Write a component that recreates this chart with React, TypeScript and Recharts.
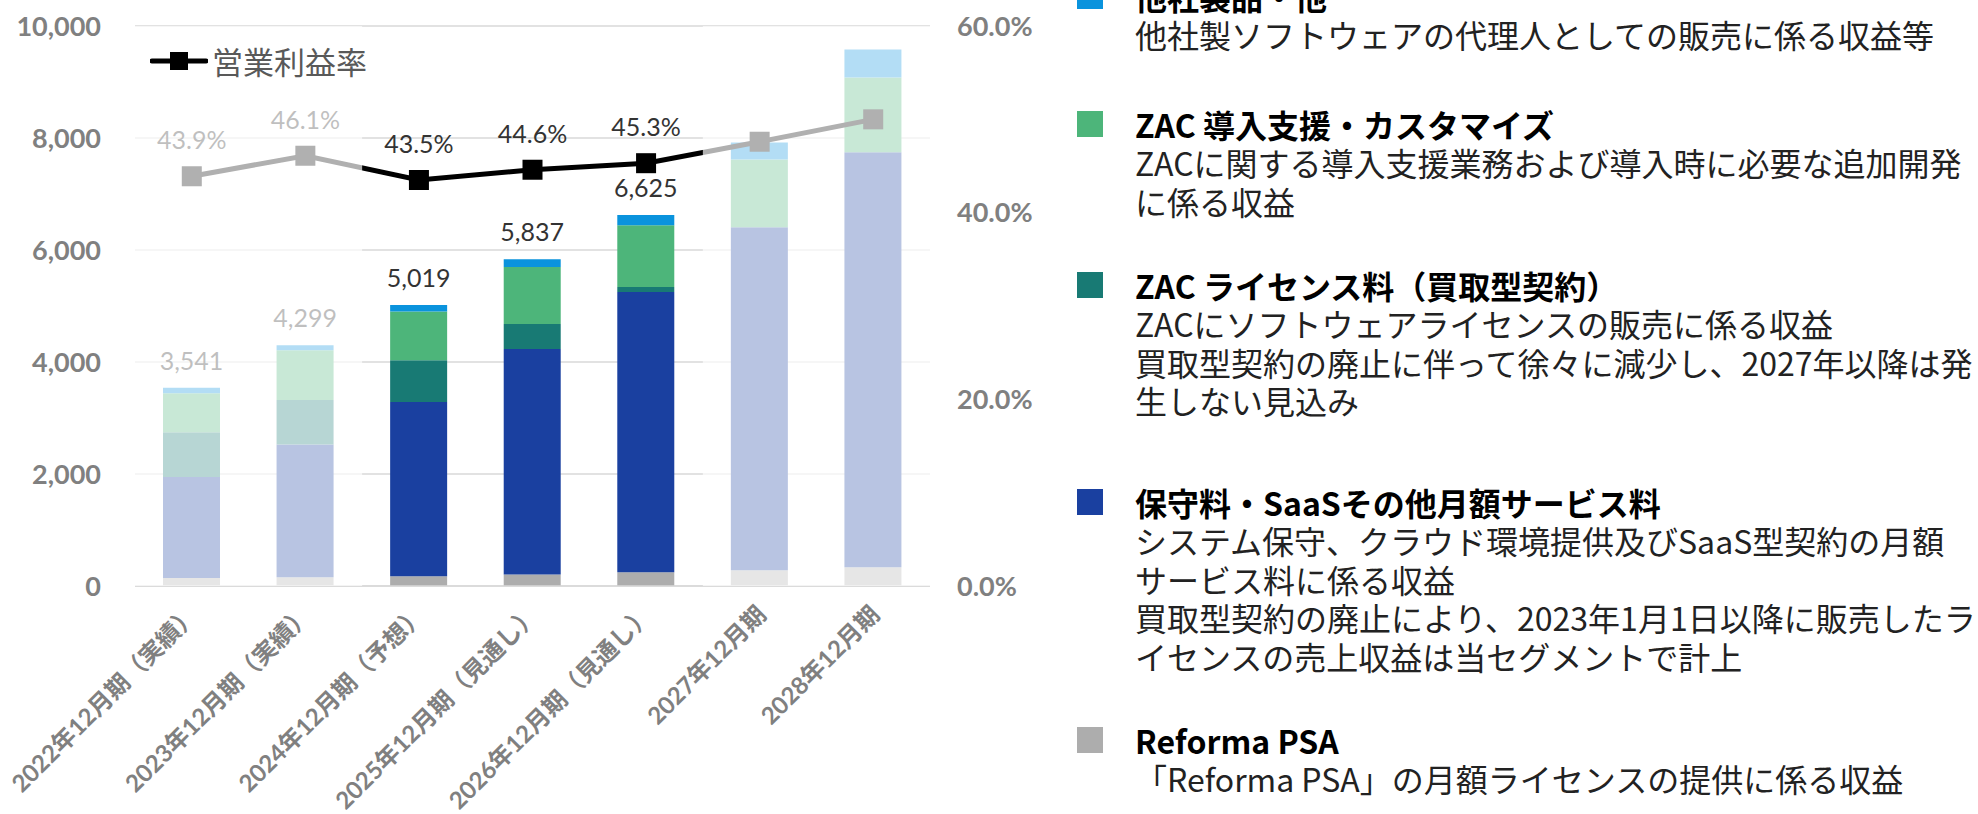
import {
  Bar,
  CartesianGrid,
  ComposedChart,
  LabelList,
  Legend,
  Line,
  ReferenceArea,
  XAxis,
  YAxis,
} from 'recharts'

const categories = [
  '2022年12月期（実績）',
  '2023年12月期（実績）',
  '2024年12月期（予想）',
  '2025年12月期（見通し）',
  '2026年12月期（見通し）',
  '2027年12月期',
  '2028年12月期',
]
const reformaPsa = [143, 155, 173, 204, 245, 280, 334]
const saasMonthly = [1803, 2370, 3113, 4028, 5005, 6125, 7411]
const zacLicense = [799, 796, 744, 447, 89, 0, 0]
const zacIntro = [696, 888, 870, 1017, 1102, 1209, 1334]
const otherProducts = [100, 90, 119, 141, 184, 304, 500]
const totalLabels = [3541, 4299, 5019, 5837, 6625, null, null]
const opMargin = [43.9, 46.1, 43.5, 44.6, 45.3, 47.6, 50.0]
const marginLabels = [43.9, 46.1, 43.5, 44.6, 45.3, null, null]
const leftTicks = [0, 2000, 4000, 6000, 8000, 10000]
const rightTicks = [0, 20, 40, 60]

const legendItems = [
  { color: '#0A93DD', title: '他社製品・他', lines: ['他社製ソフトウェアの代理人としての販売に係る収益等'] },
  {
    color: '#4DB57A',
    title: 'ZAC 導入支援・カスタマイズ',
    lines: ['ZACに関する導入支援業務および導入時に必要な追加開発', 'に係る収益'],
  },
  {
    color: '#187A74',
    title: 'ZAC ライセンス料（買取型契約）',
    lines: [
      'ZACにソフトウェアライセンスの販売に係る収益',
      '買取型契約の廃止に伴って徐々に減少し、2027年以降は発',
      '生しない見込み',
    ],
  },
  {
    color: '#1A40A0',
    title: '保守料・SaaSその他月額サービス料',
    lines: [
      'システム保守、クラウド環境提供及びSaaS型契約の月額',
      'サービス料に係る収益',
      '買取型契約の廃止により、2023年1月1日以降に販売したラ',
      'イセンスの売上収益は当セグメントで計上',
    ],
  },
  { color: '#ADADAD', title: 'Reforma PSA', lines: ['「Reforma PSA」の月額ライセンスの提供に係る収益'] },
]
// vertical centre of each legend title row
const legendTitleY = [-4, 124, 285, 502, 740]

const NUM_FONT = "Lato, 'Noto Sans CJK JP', sans-serif"
const JP_FONT = "'Noto Sans CJK JP', sans-serif"
const LINE_H = 38.5

const data = categories.map((name, i) => ({
  name,
  reforma: reformaPsa[i],
  saas: saasMonthly[i],
  license: zacLicense[i],
  intro: zacIntro[i],
  other: otherProducts[i],
  margin: opMargin[i],
}))

function XTick({ x, y, payload }: any) {
  const tx = x + 8
  const ty = y + 22
  return (
    <text
      x={tx}
      y={ty}
      transform={`rotate(-45, ${tx}, ${ty})`}
      textAnchor="end"
      fill="#808080"
      fontSize={24}
      fontWeight={700}
      fontFamily={NUM_FONT}
    >
      {payload.value}
    </text>
  )
}

function SquareDot({ cx, cy, index }: any) {
  if (cx == null || cy == null) return null
  return <rect key={`dot-${index}`} x={cx - 10} y={cy - 10} width={20} height={20} fill="#000" />
}

function TotalLabel(props: any) {
  const v = totalLabels[props.index]
  if (v == null) return null
  const x = props.x ?? props.viewBox?.x
  const y = props.y ?? props.viewBox?.y
  const w = props.width ?? props.viewBox?.width ?? 0
  return (
    <text x={x + w / 2} y={y - 18} textAnchor="middle" fill="#333" fontSize={25} fontFamily={NUM_FONT}>
      {v.toLocaleString('en-US')}
    </text>
  )
}

function MarginLabel(props: any) {
  const v = marginLabels[props.index]
  if (v == null) return null
  const x = props.x ?? props.viewBox?.x
  const y = props.y ?? props.viewBox?.y
  return (
    <text x={x} y={y - 27} textAnchor="middle" fill="#333" fontSize={25} fontFamily={NUM_FONT}>
      {v.toFixed(1)}%
    </text>
  )
}

function MarginLegend() {
  return (
    <div style={{ display: 'flex', alignItems: 'center', fontFamily: JP_FONT }}>
      <svg width={58} height={20}>
        <line x1={2} y1={10} x2={56} y2={10} stroke="#000" strokeWidth={5} strokeLinecap="round" />
        <rect x={20} y={1} width={18} height={18} fill="#000" />
      </svg>
      <span style={{ fontSize: 31, color: '#595959', marginLeft: 4, lineHeight: 1 }}>営業利益率</span>
    </div>
  )
}

export default function App() {
  return (
    <div
      style={{
        position: 'absolute',
        left: 0,
        top: 0,
        width: 1978,
        height: 814,
        overflow: 'hidden',
        background: '#fff',
      }}
    >
      <ComposedChart width={1040} height={814} data={data} margin={{ top: 26, right: 0, bottom: 0, left: 0 }}>
        <CartesianGrid vertical={false} stroke="#D9D9D9" strokeWidth={1.3} yAxisId="left" />
        <XAxis
          dataKey="name"
          interval={0}
          height={228}
          tickLine={false}
          axisLine={{ stroke: '#D9D9D9', strokeWidth: 1.5 }}
          tick={<XTick />}
        />
        <YAxis
          yAxisId="left"
          width={135}
          domain={[0, 10000]}
          ticks={leftTicks}
          axisLine={false}
          tickLine={false}
          tickSize={6}
          tickMargin={28}
          tickFormatter={(v: number) => v.toLocaleString('en-US')}
          tick={{ fill: '#808080', fontSize: 27, fontWeight: 700, fontFamily: NUM_FONT }}
        />
        <YAxis
          yAxisId="right"
          orientation="right"
          width={110}
          domain={[0, 60]}
          ticks={rightTicks}
          axisLine={false}
          tickLine={false}
          tickSize={6}
          tickMargin={21}
          tickFormatter={(v: number) => `${v.toFixed(1)}%`}
          tick={{ fill: '#808080', fontSize: 27, fontWeight: 700, fontFamily: NUM_FONT, textAnchor: 'start' }}
        />
        <Legend
          layout="horizontal"
          verticalAlign="middle"
          align="center"
          content={() => <MarginLegend />}
          wrapperStyle={{ left: 150, top: 45, width: 'auto', height: 'auto' }}
        />
        <Bar yAxisId="left" dataKey="reforma" stackId="s" fill="#ADADAD" barSize={57} isAnimationActive={false} />
        <Bar yAxisId="left" dataKey="saas" stackId="s" fill="#1A40A0" barSize={57} isAnimationActive={false} />
        <Bar yAxisId="left" dataKey="license" stackId="s" fill="#187A74" barSize={57} isAnimationActive={false} />
        <Bar yAxisId="left" dataKey="intro" stackId="s" fill="#4DB57A" barSize={57} isAnimationActive={false} />
        <Bar yAxisId="left" dataKey="other" stackId="s" fill="#0A93DD" barSize={57} isAnimationActive={false}>
          <LabelList dataKey="other" content={TotalLabel} />
        </Bar>
        <Line
          yAxisId="right"
          dataKey="margin"
          stroke="#000"
          strokeWidth={5}
          dot={SquareDot}
          activeDot={false}
          isAnimationActive={false}
        >
          <LabelList dataKey="margin" content={MarginLabel} />
        </Line>
        {/* faded (past actuals / long-range) columns */}
        <ReferenceArea
          yAxisId="left"
          x1={categories[0]}
          x2={categories[1]}
          fill="#fff"
          fillOpacity={0.69}
          stroke="none"
          zIndex={2500}
        />
        <ReferenceArea
          yAxisId="left"
          x1={categories[5]}
          x2={categories[6]}
          fill="#fff"
          fillOpacity={0.69}
          stroke="none"
          zIndex={2500}
        />
      </ComposedChart>

      {legendItems.map((item, i) => (
        <div
          key={item.title}
          style={{
            position: 'absolute',
            left: 1077,
            top: legendTitleY[i] - LINE_H / 2,
            fontFamily: JP_FONT,
            whiteSpace: 'nowrap',
          }}
        >
          <div
            style={{
              position: 'absolute',
              left: 0,
              top: LINE_H / 2 - 13,
              width: 26,
              height: 26,
              background: item.color,
            }}
          />
          <div style={{ marginLeft: 58 }}>
            <div style={{ fontSize: 32, fontWeight: 700, color: '#000', lineHeight: `${LINE_H}px` }}>{item.title}</div>
            {item.lines.map((t) => (
              <div key={t} style={{ fontSize: 32, color: '#222', lineHeight: `${LINE_H}px` }}>
                {t}
              </div>
            ))}
          </div>
        </div>
      ))}
    </div>
  )
}
